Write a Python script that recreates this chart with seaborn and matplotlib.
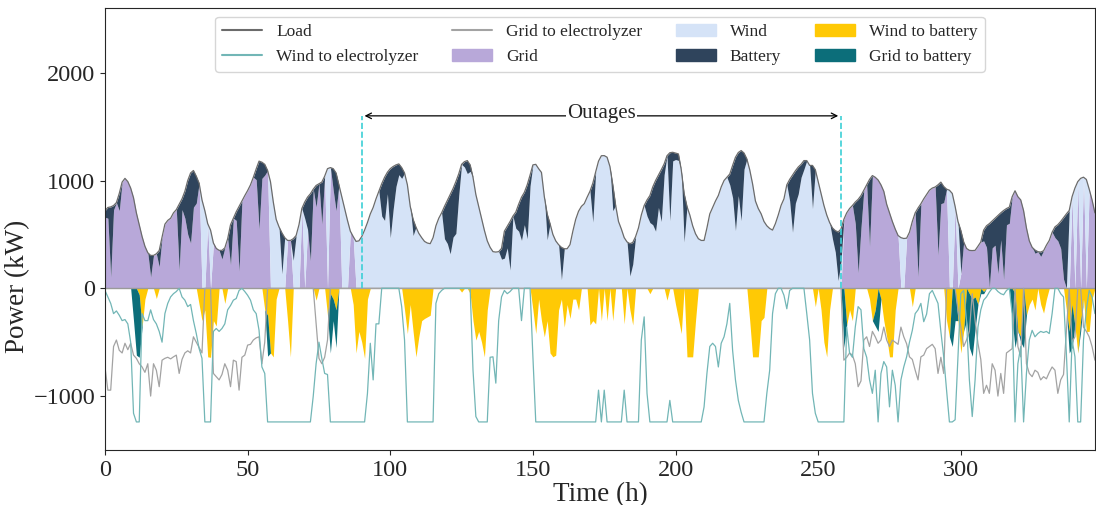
import numpy as np
import matplotlib
matplotlib.use('Agg')
import matplotlib.pyplot as plt
import seaborn as sns
from matplotlib.patches import Patch
from matplotlib.lines import Line2D

# ---- data (kW, hourly) ----
hours = np.arange(348)

load = [720, 750, 755, 768, 795, 880, 985, 1020, 990, 930, 840, 700,
        590, 480, 390, 330, 305, 305, 320, 350, 475, 595, 630, 650,
        700, 730, 780, 830, 900, 1000, 1070, 1093, 1040, 975, 820, 720,
        600, 540, 420, 370, 352, 352, 375, 460, 590, 650, 710, 760,
        810, 860, 907, 960, 1030, 1108, 1180, 1170, 1150, 1093, 990, 800,
        640, 570, 515, 470, 444, 444, 460, 490, 590, 740, 800, 846,
        877, 920, 954, 970, 985, 1040, 1110, 1120, 1110, 1070, 960, 850,
        740, 630, 530, 480, 435, 440, 480, 540, 610, 690, 750, 830,
        900, 970, 1030, 1077, 1110, 1130, 1145, 1154, 1120, 1070, 960, 760,
        640, 568, 510, 470, 435, 420, 414, 470, 580, 650, 700, 760,
        815, 870, 925, 990, 1062, 1150, 1175, 1185, 1145, 1030, 870, 760,
        650, 537, 440, 380, 340, 336, 340, 370, 530, 575, 620, 670,
        707, 780, 845, 890, 960, 1050, 1145, 1150, 1110, 1075, 850, 690,
        600, 500, 440, 405, 380, 367, 367, 405, 530, 640, 715, 760,
        785, 845, 900, 975, 1080, 1180, 1230, 1231, 1216, 1130, 960, 770,
        620, 550, 470, 430, 414, 425, 480, 560, 680, 768, 820, 860,
        940, 1000, 1050, 1100, 1154, 1230, 1258, 1262, 1255, 1247, 1100, 880,
        760, 680, 580, 506, 460, 444, 444, 560, 690, 750, 810, 861,
        940, 1000, 1030, 1060, 1140, 1216, 1260, 1278, 1255, 1200, 1100, 969,
        810, 740, 691, 620, 580, 555, 540, 600, 680, 770, 830, 960,
        1010, 1050, 1090, 1125, 1150, 1185, 1185, 1140, 1140, 1100, 990, 880,
        770, 680, 610, 560, 535, 522, 550, 640, 700, 740, 768, 800,
        825, 860, 910, 960, 1010, 1046, 1030, 1005, 960, 900, 780, 700,
        620, 550, 490, 470, 462, 465, 520, 620, 700, 745, 784, 830,
        870, 910, 930, 940, 960, 985, 945, 920, 910, 880, 760, 620,
        537, 430, 370, 352, 350, 352, 390, 430, 540, 580, 600, 625,
        650, 676, 700, 722, 740, 753, 850, 905, 850, 820, 720, 560,
        440, 380, 355, 340, 336, 348, 400, 444, 520, 570, 590, 620,
        655, 690, 722, 850, 930, 990, 1020, 1031, 1010, 920, 820, 700]

# electrolyzer supply (drawn below zero)
wind_to_elec = [20, 80, 140, 235, 210, 250, 300, 290, 330, 500, 1160, 1240,
                1240, 235, 300, 300, 200, 290, 330, 400, 500, 235, 140, 80,
                50, 30, 0, 80, 110, 170, 150, 300, 420, 560, 650, 1240,
                1240, 1240, 400, 373, 400, 373, 330, 200, 160, 110, 95, 20,
                0, 30, 65, 110, 200, 235, 390, 730, 790, 1240, 1240, 1240,
                1240, 1240, 1240, 1240, 1240, 1240, 1240, 1240, 1240, 1240, 1240, 1240,
                1240, 1000, 700, 500, 650, 790, 800, 1240, 1240, 1240, 1240, 1240,
                1240, 1240, 1240, 1240, 1240, 1240, 1240, 1240, 975, 510, 850, 330,
                330, 0, 0, 0, 0, 0, 0, 0, 170, 480, 1240, 1240,
                1240, 1240, 1240, 1240, 1240, 1240, 1240, 1240, 140, 50, 20, 0,
                0, 0, 0, 0, 0, 0, 0, 0, 0, 760, 1190, 1240,
                1240, 1240, 1240, 640, 636, 880, 300, 80, 20, 50, 30, 0,
                0, 0, 300, 0, 0, 0, 636, 1240, 1240, 1240, 1240, 1240,
                1240, 1240, 1240, 1240, 1240, 1240, 1240, 1240, 1240, 1240, 1240, 1240,
                1240, 1240, 1240, 1240, 1240, 945, 1240, 945, 1240, 1240, 1240, 1240,
                1240, 1240, 945, 1240, 1240, 1240, 1240, 1240, 480, 265, 975, 1240,
                1240, 1240, 1240, 1240, 1240, 1240, 1040, 1240, 1240, 1240, 1240, 1240,
                1240, 1240, 1240, 1240, 1240, 1240, 1100, 790, 540, 510, 540, 730,
                510, 450, 330, 140, 575, 850, 1040, 1150, 1240, 1240, 1240, 1240,
                1240, 1240, 1240, 1240, 975, 760, 235, 50, 0, 0, 65, 190,
                20, 0, 0, 0, 0, 0, 235, 480, 975, 1160, 1240, 1240,
                1240, 1240, 1240, 1240, 1240, 1240, 1240, 1240, 360, 600, 640, 360,
                170, 200, 560, 640, 850, 975, 760, 1240, 790, 680, 730, 1100,
                760, 900, 1240, 850, 730, 636, 500, 390, 235, 200, 140, 310,
                240, 50, 20, 80, 140, 400, 636, 945, 1240, 1240, 1220, 636,
                50, 20, 300, 850, 1190, 850, 360, 200, 110, 80, 35, 0,
                0, 30, 50, 60, 20, 0, 235, 1240, 700, 540, 1240, 790,
                480, 390, 450, 420, 400, 410, 400, 420, 235, 0, 0, 50,
                80, 605, 1240, 480, 636, 1240, 1240, 480, 200, 20, 80, 235]

grid_to_elec = ([730, 945, 945, 540, 480, 575, 600, 510, 570, 510, 620, 650,
                 700, 730, 780, 700, 1000, 700, 760, 913, 667, 650, 640, 655,
                 636, 620, 790, 660, 600, 580, 600, 450, 500, 550, 600, 0,
                 0, 0, 790, 820, 850, 800, 700, 760, 913, 667, 680, 945,
                 640, 620, 527, 520, 480, 460, 450, 700, 500, 0, 0, 0]
                + [0] * 14
                + [330, 650, 700, 640, 480]
                + [0] * 180
                + [667, 640, 600, 620, 700,
                   913, 860, 480, 450, 540, 400, 450, 510, 480, 360, 480, 540,
                   480, 500, 520, 360, 450, 515, 636, 660, 760, 850, 636, 620,
                   560, 540, 520, 560, 790, 640, 790, 0, 0, 0, 0, 200,
                   360, 540, 480, 400, 50, 300, 510, 660, 975, 900, 975, 700,
                   760, 1000, 790, 975, 600, 580, 560, 0, 540, 636, 0, 700,
                   790, 820, 760, 780, 850, 820, 840, 780, 730, 760, 975, 850,
                   800, 400, 0, 500, 450, 0, 0, 360, 400, 450, 540, 667])

# battery discharge to load
bat_h = [0, 1, 2, 3, 5, 16, 19, 26, 27, 28, 29, 30, 31, 32,
         41, 44, 46, 47, 53, 54, 55, 56, 62, 66, 70, 71, 72, 74, 76, 80, 81,
         97, 98, 99, 100, 101, 102, 103, 104, 108, 119, 120, 121, 122, 123, 124, 126, 127, 128,
         139, 140, 141, 142, 144, 145, 146, 147, 148, 149, 155, 160, 171, 178, 184, 185,
         190, 191, 192, 193, 194, 195, 196, 198, 199, 200, 201, 203,
         219, 220, 221, 222, 223, 224, 240, 241, 242, 243, 244, 245, 248, 255, 256, 257, 258,
         263, 264, 265, 268, 285, 292, 293, 294, 300, 308, 309, 310, 311, 312, 313, 314, 315, 316, 317,
         326, 328, 333, 334, 335, 336, 337]
bat_kw = [60, 100, 650, 40, 160, 200, 150, 610, 100, 250, 500, 650, 340, 250,
          80, 370, 80, 600, 100, 630, 150, 100, 380, 200, 150, 300, 620, 200, 390, 200, 350,
          300, 400, 200, 640, 400, 200, 100, 100, 150, 300, 400, 550, 450, 480, 200, 50, 120, 60,
          100, 250, 200, 450, 150, 250, 400, 300, 500, 100, 240, 300, 360, 240, 300, 200,
          150, 250, 350, 470, 300, 480, 100, 630, 80, 60, 60, 450,
          100, 300, 680, 400, 650, 150, 200, 530, 300, 250, 120, 80, 400, 100, 200, 450, 300,
          200, 680, 300, 620, 635, 650, 200, 150, 400, 100, 200, 590, 250, 250, 540, 250, 640, 150, 150,
          30, 40, 100, 150, 250, 570, 690]

# hours outside the outage where wind covers the rest of the load
wind_h = [34, 35, 37, 58, 59, 60, 61, 62, 63, 66, 67, 68, 70, 78, 83, 84, 85, 88, 89,
          279, 280, 296, 297, 299, 338, 340, 342, 344]
outage = (90, 258)

# battery charging (drawn below zero)
w2b_h = [12, 13, 14, 18, 33, 34, 35, 36, 37, 38, 39, 42, 56, 57, 58, 59, 60, 64, 65, 74, 78, 79, 80, 81,
         87, 88, 89, 90, 91, 92, 105, 106, 107, 108, 109, 110, 111, 112, 113, 114, 125, 128, 129, 130, 131, 132, 133, 134,
         150, 151, 152, 153, 154, 155, 156, 157, 158, 159, 160, 161, 162, 163, 164, 165, 166,
         170, 171, 172, 174, 176, 178, 182, 184, 185,
         191, 197, 200, 201, 202, 204, 205, 206, 207, 226, 227, 228, 229, 230, 231,
         249, 251, 252, 253, 254, 260, 261, 262, 268, 269, 270, 272, 273, 274, 275, 276, 277, 283,
         295, 296, 299, 300, 301, 303, 304, 305, 306, 308, 319, 320, 321, 323, 324, 325, 326, 328, 329, 330,
         337, 338, 339, 340, 341, 342, 343, 344, 345, 346]
w2b_kw = [60, 360, 100, 95, 150, 300, 200, 636, 640, 300, 350, 140, 200, 250, 600, 636, 100, 300, 636, 110, 250, 50, 100, 200,
          150, 600, 400, 500, 650, 100, 200, 420, 150, 400, 636, 450, 300, 280, 265, 250, 35, 50, 300, 480, 400, 500, 636, 200,
          200, 420, 100, 300, 450, 300, 600, 636, 620, 200, 100, 360, 150, 280, 100, 100, 200,
          340, 300, 330, 300, 300, 300, 330, 200, 340,
          50, 110, 150, 280, 420, 636, 636, 636, 300, 300, 636, 636, 636, 300, 270,
          170, 200, 500, 636, 200, 340, 200, 300, 100, 300, 200, 100, 300, 450, 636, 636, 200, 170,
          300, 450, 300, 600, 400, 50, 100, 80, 150, 30, 50, 400, 450, 250, 150, 100, 200, 150, 230, 100,
          200, 400, 150, 350, 600, 300, 100, 400, 400, 100]
g2b_h = [10, 11, 12, 57, 79, 80, 81, 259, 270, 271, 297, 298, 302, 303, 304, 305, 307, 308,
         318, 319, 321, 322, 338, 339, 342]
g2b_kw = [300, 620, 580, 380, 550, 200, 350, 550, 150, 400, 540, 300, 300, 500, 530, 300, 50, 20,
          300, 500, 50, 550, 200, 400, 100]

# ---- build supply mix ----
load = np.array(load, dtype=float)
battery = np.zeros(len(hours))
battery[bat_h] = bat_kw
battery = np.minimum(battery, load)
wind_on = np.zeros(len(hours), dtype=bool)
wind_on[outage[0]:outage[1] + 1] = True
wind_on[wind_h] = True
wind = np.where(wind_on, load - battery, 0)
grid = load - battery - wind

w2b = np.zeros(len(hours)); w2b[w2b_h] = w2b_kw
g2b = np.zeros(len(hours)); g2b[g2b_h] = g2b_kw

c_grid, c_wind, c_bat = '#b8a8d9', '#d5e3f7', '#2f445c'
c_w2b, c_g2b = '#ffc905', '#0c6e7a'
c_load, c_w2e, c_g2e = '#6b6b6b', '#72b6b6', '#a3a3a3'

sns.set_style('ticks')
plt.rcParams['font.family'] = ['Liberation Serif', 'DejaVu Serif']

fig = plt.figure(figsize=(10.96, 5.05), dpi=100)
ax = fig.add_axes([0.0958, 0.109, 0.9032, 0.875])

ax.stackplot(hours, grid, wind, battery, colors=[c_grid, c_wind, c_bat], lw=0)
ax.stackplot(hours, -w2b, -g2b, colors=[c_w2b, c_g2b], lw=0)
ax.axhline(0, color='#9a9a9a', lw=1, zorder=1.5)

sns.lineplot(x=hours, y=-np.array(grid_to_elec), color=c_g2e, lw=0.9, ax=ax)
sns.lineplot(x=hours, y=-np.array(wind_to_elec), color=c_w2e, lw=0.9, ax=ax)
sns.lineplot(x=hours, y=load, color=c_load, lw=0.9, ax=ax)

# outage window
ax.vlines(list(outage), 0, 1600, colors='#3ccfd6', linestyles='--', lw=1.2, zorder=3)
ax.annotate('', xy=(outage[0], 1600), xytext=(outage[1], 1600),
            arrowprops=dict(arrowstyle='<->', color='black', lw=0.9))
ax.text(sum(outage) / 2, 1620, 'Outages', ha='center', va='center', fontsize=15,
        bbox=dict(fc='white', ec='none', pad=1))

ax.set_xlim(0, 347)
ax.set_ylim(-1500, 2600)
ax.set_yticks([-1000, 0, 1000, 2000])
ax.tick_params(labelsize=17.5)
ax.set_xlabel('Time (h)', fontsize=19.5, labelpad=1)
ax.set_ylabel('Power (kW)', fontsize=19.5)
ax.yaxis.set_label_coords(-0.076, 0.37)

handles = [Line2D([], [], color=c_load, lw=1.5), Line2D([], [], color=c_w2e, lw=1.5),
           Line2D([], [], color=c_g2e, lw=1.5), Patch(color=c_grid), Patch(color=c_wind),
           Patch(color=c_bat), Patch(color=c_w2b), Patch(color=c_g2b)]
labels = ['Load', 'Wind to electrolyzer', 'Grid to electrolyzer', 'Grid', 'Wind',
          'Battery', 'Wind to battery', 'Grid to battery']
ax.legend(handles, labels, loc='upper center', ncol=4, fontsize=12.5,
          handlelength=2.3, columnspacing=1.95, labelspacing=0.5)

fig.savefig('out.png', dpi=100)
